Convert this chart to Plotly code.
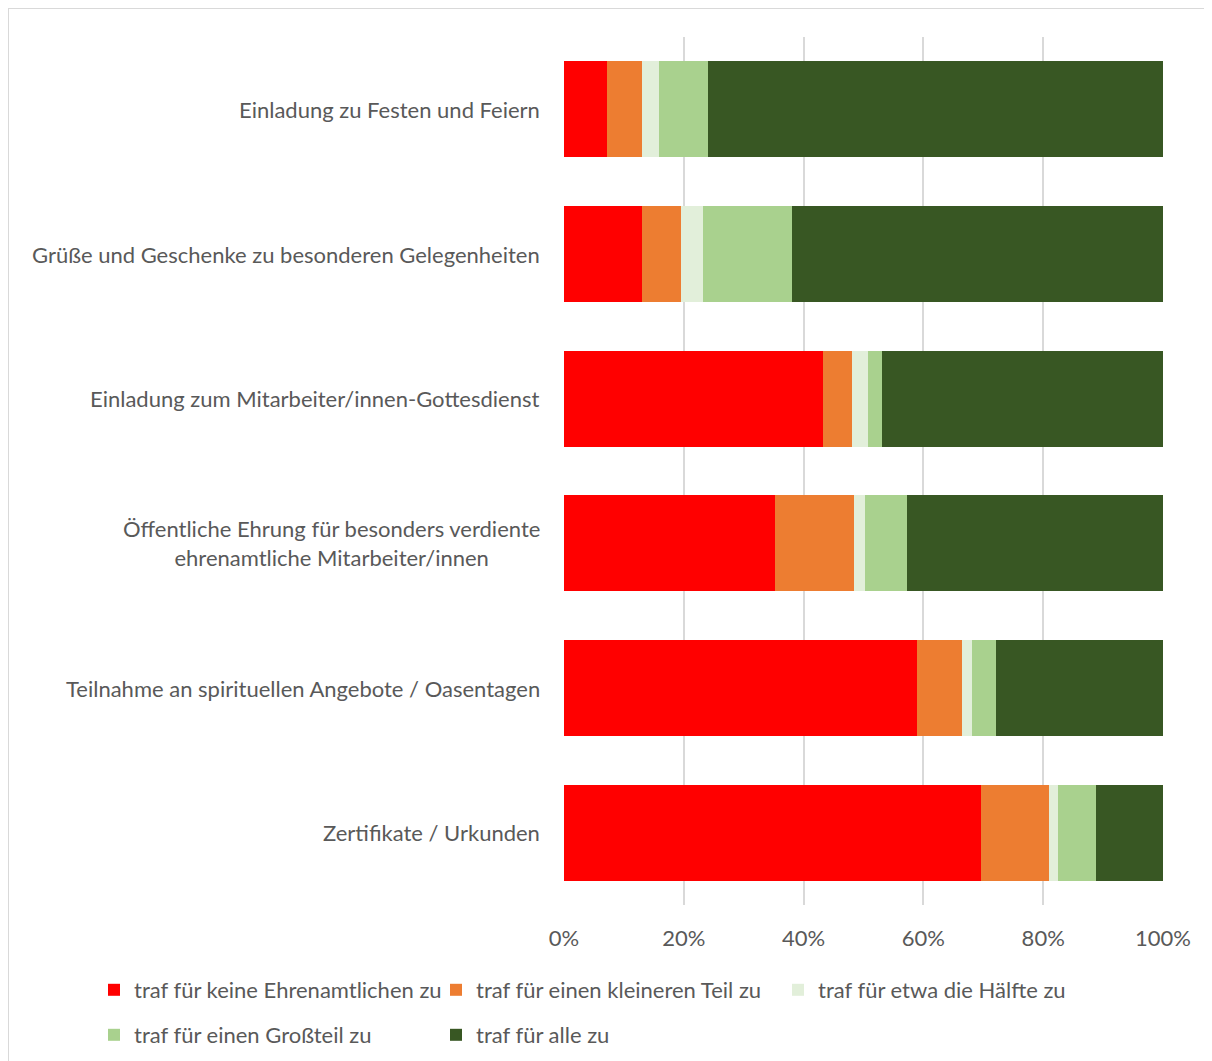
import plotly.graph_objects as go

categories = [
    "Einladung zu Festen und Feiern",
    "Grüße und Geschenke zu besonderen Gelegenheiten",
    "Einladung zum Mitarbeiter/innen-Gottesdienst",
    "Öffentliche Ehrung für besonders verdiente<br>ehrenamtliche Mitarbeiter/innen",
    "Teilnahme an spirituellen Angebote / Oasentagen",
    "Zertifikate / Urkunden",
]
category_keys = ["c1", "c2", "c3", "c4", "c5", "c6"]

series_names = [
    "traf für keine Ehrenamtlichen zu",
    "traf für einen kleineren Teil zu",
    "traf für etwa die Hälfte zu",
    "traf für einen Großteil zu",
    "traf für alle zu",
]
keine = [7.1, 13.1, 43.2, 35.2, 58.9, 69.6]
kleiner = [6.0, 6.4, 4.9, 13.2, 7.5, 11.3]
haelfte = [2.8, 3.7, 2.6, 1.8, 1.7, 1.6]
grossteil = [8.1, 14.9, 2.4, 7.1, 4.0, 6.3]
alle = [76.0, 61.9, 46.9, 42.7, 27.9, 11.2]
series_values = [keine, kleiner, haelfte, grossteil, alle]
colors = ["#ff0000", "#ed7d31", "#e2efda", "#a9d18e", "#385723"]
legend_ids = ["legend", "legend", "legend", "legend2", "legend2"]

tick_vals = [0, 20, 40, 60, 80, 100]
tick_text = ["0%", "20%", "40%", "60%", "80%", "100%"]

FONT = "Lato"
FS = 22
TXT = "#595959"

# page offset (body margin) of 8px
OFF = 8
L, T, PW, PH = 564 - OFF, 37 - OFF, 599, 868
W, H = 1212, 1061


def px2x(px):
    return (px - OFF - L) / PW


def py2y(py):
    return 1 - (py - OFF - T) / PH


fig = go.Figure()
for name, vals, col, lg in zip(series_names, series_values, colors, legend_ids):
    fig.add_trace(go.Bar(
        y=category_keys, x=vals, name=name, orientation="h",
        marker=dict(color=col, line=dict(width=0)),
        legend=lg,
    ))

for key, label in zip(category_keys, categories):
    fig.add_annotation(
        x=0, xref="x", y=key, yref="y", text=label, showarrow=False,
        xanchor="right", yanchor="middle", align="center", xshift=-22,
        font=dict(family=FONT, size=FS, color=TXT),
    )

# outer frame
fig.add_shape(type="rect", xref="paper", yref="paper",
              x0=px2x(8), x1=px2x(1240),
              y0=py2y(1090), y1=py2y(8),
              line=dict(color="#d9d9d9", width=2), fillcolor="rgba(0,0,0,0)", layer="below")

fig.update_layout(
    width=W, height=H,
    margin=dict(l=L, r=W - L - PW, t=T, b=H - T - PH),
    barmode="stack", bargap=0.335,
    paper_bgcolor="white", plot_bgcolor="white",
    font=dict(family=FONT, size=FS, color=TXT),
    xaxis=dict(range=[0, 100], tickvals=tick_vals, ticktext=tick_text,
               showgrid=True, gridcolor="#d9d9d9", gridwidth=1.5,
               zeroline=False, showline=False, ticks="",
               ticklabelstandoff=18,
               tickfont=dict(family=FONT, size=FS, color=TXT)),
    yaxis=dict(autorange="reversed", showticklabels=False, showgrid=False,
               zeroline=False, showline=False, ticks=""),
    legend=dict(orientation="h", x=px2x(94), xanchor="left",
                y=py2y(969), yanchor="top",
                entrywidth=297, entrywidthmode="pixels",
                font=dict(family=FONT, size=FS, color=TXT),
                bgcolor="rgba(0,0,0,0)", traceorder="normal"),
    legend2=dict(orientation="h", x=px2x(94), xanchor="left",
                 y=py2y(1014), yanchor="top",
                 entrywidth=297, entrywidthmode="pixels",
                 font=dict(family=FONT, size=FS, color=TXT),
                 bgcolor="rgba(0,0,0,0)", traceorder="normal"),
)

fig.write_html("out.html")
